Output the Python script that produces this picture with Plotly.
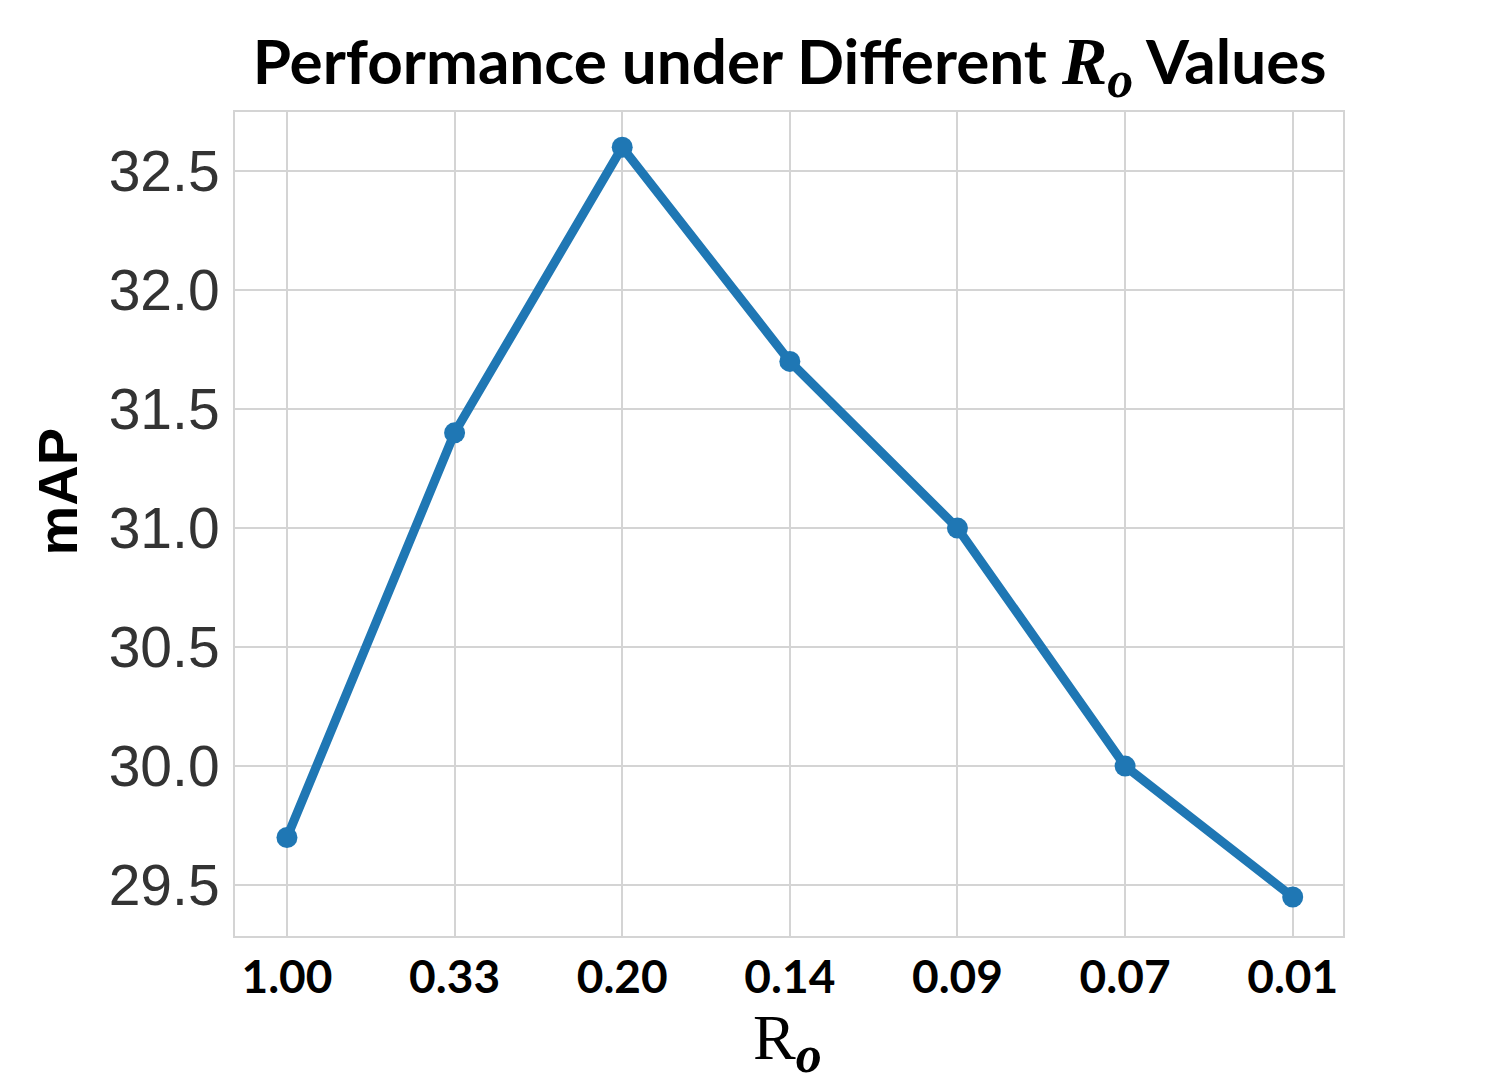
import plotly.graph_objects as go

categories = ["1.00", "0.33", "0.20", "0.14", "0.09", "0.07", "0.01"]
map_values = [29.70, 31.40, 32.60, 31.70, 31.00, 30.00, 29.45]
y_ticks = [29.5, 30.0, 30.5, 31.0, 31.5, 32.0, 32.5]

BLUE = "#1f77b4"
GRID = "#d4d4d4"

fig = go.Figure()
fig.add_trace(go.Scatter(
    x=list(range(len(categories))), y=map_values,
    mode="lines+markers",
    line=dict(color=BLUE, width=9),
    marker=dict(color=BLUE, size=21),
    showlegend=False,
))

serif = "font-family:'Liberation Serif'"
title_text = ("<b>Performance under Different </b>"
              f"<span style=\"{serif};font-size:68px\"><b><i>R</i></b></span>"
              f"<sub><span style=\"{serif};font-size:52px\"><b><i>o</i></b></span></sub>"
              "<b> Values</b>")

fig.update_layout(
    width=1486, height=1089,
    margin=dict(l=227, r=151, t=104, b=161),
    paper_bgcolor="white", plot_bgcolor="white",
    title=dict(
        text=title_text,
        x=0.526, xanchor="center", y=0.950, yanchor="middle",
        font=dict(family="Lato", size=62, color="black"),
    ),
    xaxis=dict(
        range=[-0.31, 6.30],
        tickmode="array", tickvals=list(range(len(categories))), ticktext=categories,
        tickfont=dict(family="Lato", size=46, color="black", weight="bold"),
        showgrid=True, gridcolor=GRID, gridwidth=2,
        showline=True, linecolor=GRID, linewidth=2, mirror=True,
        ticks="", ticklabelstandoff=0,
        zeroline=False,
    ),
    yaxis=dict(
        range=[29.286, 32.748],
        tickmode="array", tickvals=y_ticks, ticktext=[f"{v:.1f}" for v in y_ticks],
        tickfont=dict(family="Liberation Sans", size=57, color="#333333"),
        showgrid=True, gridcolor=GRID, gridwidth=2,
        showline=True, linecolor=GRID, linewidth=2, mirror=True,
        ticks="", ticklabelstandoff=2,
        zeroline=False,
    ),
    annotations=[
        dict(text="<b>mAP</b>", xref="paper", yref="paper",
             x=-0.160, y=0.539, xanchor="center", yanchor="middle",
             textangle=-90, showarrow=False,
             font=dict(family="Liberation Sans", size=56, color="black")),
        dict(text=f"R<sub><span style=\"font-size:52px\"><b><i>o</i></b></span></sub>",
             xref="paper", yref="paper",
             x=0.499, y=-0.078, xanchor="center", yanchor="top",
             showarrow=False,
             font=dict(family="Liberation Serif", size=64, color="black")),
    ],
)

fig.write_html("out.html")
